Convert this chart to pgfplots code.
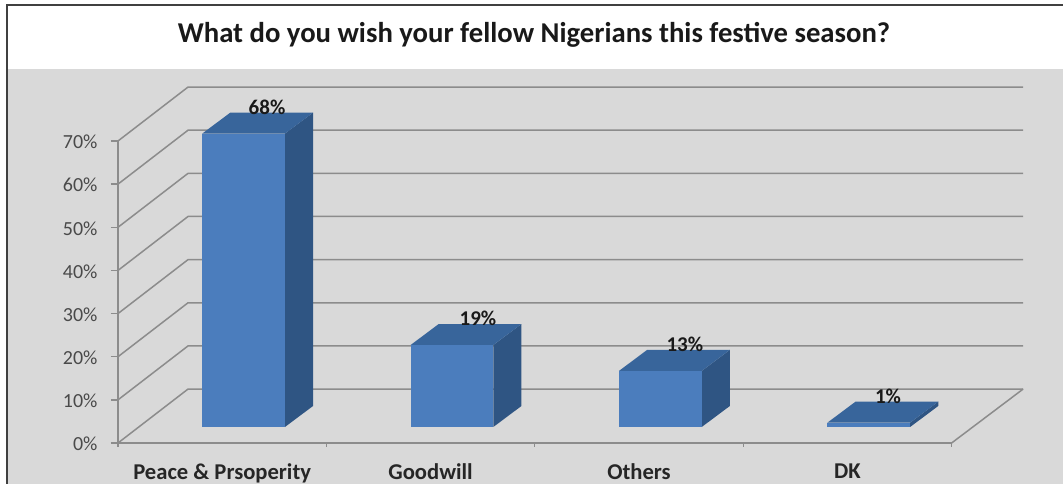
\documentclass[border=0pt]{standalone}
\usepackage{fontspec}
\setmainfont{Carlito}
\usepackage{pgfplots}
\pgfplotsset{compat=1.18}
\definecolor{wallc}{HTML}{D9D9D9}
\definecolor{gridc}{HTML}{8C8C8C}
\definecolor{frontc}{HTML}{4B7DBD}
\definecolor{topc}{HTML}{38659B}
\definecolor{sidec}{HTML}{2F5583}
\definecolor{tickc}{HTML}{4A4A4A}
\begin{document}
\begin{tikzpicture}[x=1pt,y=1pt]
\useasboundingbox (0,0) rectangle (1063,484);
\fill[white] (0,0) rectangle (1063,484);
\fill[wallc] (8,0) rectangle (1063,415);
\draw[line width=1.2pt,black!75] (7,0) -- (7,479) -- (1063,479);
\node[font=\bfseries\fontsize{28.7}{32}\selectfont,text=black!90] at (534,449) {What do you wish your fellow Nigerians this festive season?};
\begin{axis}[
  at={(118pt,41pt)},anchor=south west,
  scale only axis,width=833.6pt,height=302pt,
  xmin=0,xmax=4,ymin=0,ymax=70,
  clip=false,
  axis y line*=left,axis x line*=bottom,
  axis line style={draw=gridc,line width=1.5pt,-},
  tick align=outside,major tick length=7pt,
  x tick style={draw=none},
  y tick style={draw=gridc,line width=1.3pt},
  xtick={0.5,1.5,2.5,3.5},
  xticklabels={Peace \& Prsoperity,Goodwill,Others,DK},
  x tick label style={font=\bfseries\fontsize{22.6}{26}\selectfont,text=black!85,yshift=-10pt},
  ytick={0,10,20,30,40,50,60,70},
  yticklabels={0\%,10\%,20\%,30\%,40\%,50\%,60\%,70\%},
  y tick label style={font=\fontsize{20}{24}\selectfont,text=tickc,xshift=-10pt,yshift=-1pt},
]
% side wall and floor rules
\pgfplotsinvokeforeach{0,10,20,30,40,50,60,70}{
  \addplot[gridc,line width=1.5pt,forget plot] coordinates {(0,#1) (0.336,#1+12.5) (4.343,#1+12.5)};
}
\addplot[gridc,line width=1.5pt,forget plot] coordinates {(4,0) (4.343,12.5)};
\pgfplotsinvokeforeach{0,1,2,3,4}{
  \addplot[gridc,line width=1.3pt,forget plot] coordinates {(#1,0) (#1,-1)};
}
% Peace & Prosperity: 68
\addplot[fill=sidec,draw=none] coordinates {(0.801,3.71) (0.936,8.58) (0.936,76.58) (0.801,71.71)} -- cycle;
\addplot[fill=topc,draw=none] coordinates {(0.404,71.71) (0.801,71.71) (0.936,76.58) (0.539,76.58)} -- cycle;
\addplot[fill=frontc,draw=none] coordinates {(0.404,3.71) (0.801,3.71) (0.801,71.71) (0.404,71.71)} -- cycle;
% Goodwill: 19
\addplot[fill=sidec,draw=none] coordinates {(1.801,3.71) (1.936,8.58) (1.936,27.58) (1.801,22.71)} -- cycle;
\addplot[fill=topc,draw=none] coordinates {(1.404,22.71) (1.801,22.71) (1.936,27.58) (1.539,27.58)} -- cycle;
\addplot[fill=frontc,draw=none] coordinates {(1.404,3.71) (1.801,3.71) (1.801,22.71) (1.404,22.71)} -- cycle;
% Others: 13
\addplot[fill=sidec,draw=none] coordinates {(2.801,3.71) (2.936,8.58) (2.936,21.58) (2.801,16.71)} -- cycle;
\addplot[fill=topc,draw=none] coordinates {(2.404,16.71) (2.801,16.71) (2.936,21.58) (2.539,21.58)} -- cycle;
\addplot[fill=frontc,draw=none] coordinates {(2.404,3.71) (2.801,3.71) (2.801,16.71) (2.404,16.71)} -- cycle;
% DK: 1
\addplot[fill=sidec,draw=none] coordinates {(3.801,3.71) (3.936,8.58) (3.936,9.58) (3.801,4.71)} -- cycle;
\addplot[fill=topc,draw=none] coordinates {(3.404,4.71) (3.801,4.71) (3.936,9.58) (3.539,9.58)} -- cycle;
\addplot[fill=frontc,draw=none] coordinates {(3.404,3.71) (3.801,3.71) (3.801,4.71) (3.404,4.71)} -- cycle;
% data labels
\addplot[draw=none,mark=none,point meta=explicit,
  /pgf/number format/assume math mode=true,
  nodes near coords={\pgfmathprintnumber{\pgfplotspointmeta}\%},
  every node near coord/.style={anchor=center,inner sep=0pt,font=\bfseries\fontsize{21}{24}\selectfont,text=black!90}]
  coordinates {(0.715,77.9) [68] (1.727,28.9) [19] (2.72,22.9) [13] (3.695,10.9) [1]};
\end{axis}
\end{tikzpicture}
\end{document}
